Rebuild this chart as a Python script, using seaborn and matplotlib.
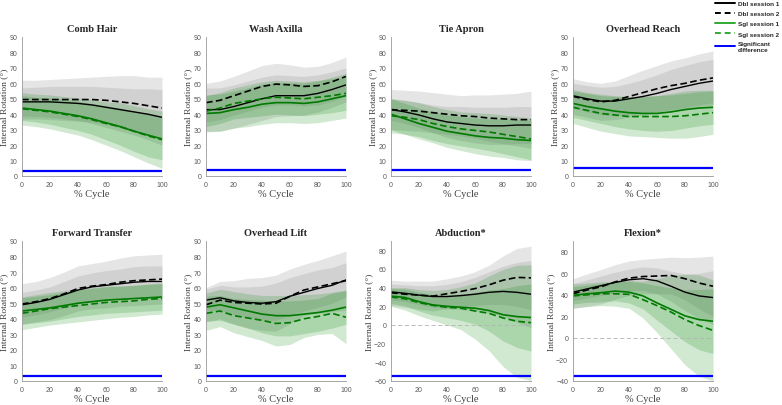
import numpy as np
import pandas as pd
import matplotlib
matplotlib.use("Agg")
import matplotlib.pyplot as plt
from matplotlib.lines import Line2D
import seaborn as sns

sns.set_style("white")
plt.rcParams['font.family'] = ['Liberation Sans', 'DejaVu Sans']

# % cycle sample points
pct = [0, 10, 20, 30, 40, 50, 60, 70, 80, 90, 100]

# ---- Comb Hair
comb_dbl1 = [48, 48, 48, 47.5, 47, 46, 44.5, 43, 41.5, 40, 38]
comb_dbl1_sd = [9, 9.5, 10, 10.5, 11, 12, 13, 14, 15, 16.5, 18]
comb_dbl2 = [49.5, 49.5, 49.5, 49.5, 49.5, 49.5, 49, 48, 47, 45.5, 44]
comb_dbl2_sd = [12.5, 12.5, 13, 13.5, 14, 14.5, 15.5, 17, 18, 18.5, 20]
comb_sgl1 = [44, 43, 42, 40.5, 39, 37, 34.5, 32, 29, 26.5, 24]
comb_sgl1_sd = [8, 8, 8.5, 9, 9.5, 10, 11, 12, 13, 14, 13.5]
comb_sgl2 = [43.5, 42.5, 41.5, 40, 38.5, 36.5, 34, 32, 29, 26, 23.5]
comb_sgl2_sd = [10.5, 10.5, 11, 11.5, 12, 13, 14, 15.5, 16.5, 17.5, 18.5]

# ---- Wash Axilla
wash_dbl1 = [43, 43, 45, 47.5, 50, 52, 52, 52, 53.5, 56, 59]
wash_dbl1_sd = [14, 14, 14, 14, 14, 13.5, 13, 12.5, 12, 11.5, 11]
wash_dbl2 = [47.5, 49, 52, 55, 58, 59.5, 59, 58, 58.5, 61, 64.5]
wash_dbl2_sd = [12.5, 12.5, 12.5, 13, 13.5, 13.5, 13, 12.5, 12.5, 12.5, 12.5]
wash_sgl1 = [40.5, 41, 43, 44.5, 46.5, 47.5, 47.5, 47, 48, 50, 52]
wash_sgl1_sd = [12, 12, 12, 12.5, 13, 13, 13, 13, 13.5, 14, 14.5]
wash_sgl2 = [42, 44, 47, 48.5, 50, 51, 50.5, 50, 51, 52, 53.5]
wash_sgl2_sd = [10, 10, 10, 10.5, 11, 11, 11, 11, 11, 11, 11]

# ---- Tie Apron
tie_dbl1 = [43, 41.5, 39.5, 37, 35, 34, 33, 32.5, 32.5, 33, 33]
tie_dbl1_sd = [7, 7.5, 8, 9, 10, 11, 11.5, 12, 12, 12, 12]
tie_dbl2 = [43, 42.5, 42, 41, 40, 39, 38.5, 37.5, 37, 36.5, 36.5]
tie_dbl2_sd = [13, 13, 13, 13, 13, 13, 14, 15, 16, 17, 18.5]
tie_sgl1 = [40, 37, 34, 31.5, 29, 27.5, 26, 25, 24.5, 23.5, 23]
tie_sgl1_sd = [10, 10, 10, 10, 10.5, 11, 11.5, 12, 12.5, 13, 13]
tie_sgl2 = [39, 38, 36.5, 34, 32, 30.5, 29.5, 28.5, 27, 25.5, 24]
tie_sgl2_sd = [11, 11, 11, 11, 11, 11, 11.5, 12, 12.5, 13, 13.5]

# ---- Overhead Reach
reach_dbl1 = [52, 50, 48.5, 48.5, 50, 51.5, 53.5, 56, 58, 60, 61.5]
reach_dbl1_sd = [8, 8.5, 9, 9.5, 10, 11, 12, 13, 13.5, 14, 14]
reach_dbl2 = [51.5, 49.5, 48, 49, 51.5, 54, 56.5, 58.5, 60, 62, 63.5]
reach_dbl2_sd = [11.5, 11.5, 12, 12.5, 13.5, 14.5, 15, 16, 16.5, 17, 17.5]
reach_sgl1 = [47, 45, 43.5, 42, 41, 40.5, 40.5, 41.5, 43, 44, 44.5]
reach_sgl1_sd = [9, 9, 9.5, 10, 10.5, 11, 11.5, 12, 12, 11.5, 11]
reach_sgl2 = [44.5, 42.5, 40.5, 39.5, 38.5, 38.5, 38.5, 38.5, 39, 40, 41]
reach_sgl2_sd = [10.5, 11, 11.5, 12, 12.5, 13, 13.5, 14, 14.5, 14.5, 14]

# ---- Forward Transfer
fwd_dbl1 = [49, 50.5, 52.5, 55.5, 58.5, 60.5, 61.5, 62.5, 63.5, 64, 64]
fwd_dbl1_sd = [8, 8, 8, 8.5, 9, 9, 9.5, 9.5, 10, 10, 10]
fwd_dbl2 = [49.5, 51, 53, 56, 59.5, 61, 62, 63.5, 64.5, 65, 65.5]
fwd_dbl2_sd = [13, 13, 13.5, 14, 14.5, 14.5, 15, 15.5, 16, 16, 16]
fwd_sgl1 = [45, 46, 47, 48.5, 50, 51, 52, 52.5, 53, 53.5, 54]
fwd_sgl1_sd = [8.5, 8.5, 8.5, 8.5, 8.5, 8.5, 8.5, 8.5, 8.5, 8.5, 8.5]
fwd_sgl2 = [43.5, 45, 46.5, 47.5, 48.5, 49.5, 50.5, 51, 51.5, 52.5, 53]
fwd_sgl2_sd = [10.5, 10.5, 10.5, 10.5, 10.5, 10.5, 10.5, 10, 10, 10, 10]

# ---- Overhead Lift
lift_dbl1 = [52, 53.5, 51.5, 50.5, 50, 51, 54.5, 57, 59.5, 61.5, 65]
lift_dbl1_sd = [7, 8, 9, 10, 11, 12, 12, 12, 12, 11.5, 11]
lift_dbl2 = [49, 52, 50.5, 50, 49.5, 50, 54.5, 58.5, 60.5, 62.5, 64.5]
lift_dbl2_sd = [11, 12, 14, 16, 17, 18, 17.5, 16.5, 17, 18, 19]
lift_sgl1 = [47.5, 49, 47, 45, 43, 42, 42, 43, 44, 45.5, 47.5]
lift_sgl1_sd = [9, 10, 10.5, 11, 12, 13, 13, 12.5, 12, 11.5, 11]
lift_sgl2 = [43.5, 45, 42, 40.5, 39, 37, 37.5, 40, 41.5, 43.5, 41]
lift_sgl2_sd = [11, 10, 11, 12, 13, 14.5, 14, 12, 11.5, 13, 17]

# ---- Abduction*
abd_dbl1 = [35.5, 34, 32, 30.5, 30.5, 31.5, 33, 35, 36, 35, 33]
abd_dbl1_sd = [8.5, 9, 10, 11.5, 13, 15, 18, 22, 27, 32, 36]
abd_dbl2 = [34.5, 33, 32, 31, 33.5, 36, 39, 43, 48, 51, 50.5]
abd_dbl2_sd = [13.5, 14, 15, 16, 16, 16.5, 18, 21, 26, 31, 34]
abd_sgl1 = [31, 29.5, 25, 21.5, 20, 19, 18, 15.5, 11, 9, 8]
abd_sgl1_sd = [8, 9, 10, 11, 12, 14, 17, 22, 28, 33, 36]
abd_sgl2 = [30, 28, 24, 21, 19, 18, 15, 12.5, 7.5, 4, 2.5]
abd_sgl2_sd = [10, 12, 14, 16, 19, 23, 30, 40, 52, 60, 62]

# ---- Flexion*
flx_dbl1 = [42.5, 45.5, 48.5, 51.5, 54, 55, 53, 48, 42.5, 39, 37.5]
flx_dbl1_sd = [8, 8.5, 9, 9.5, 10, 11, 12, 14, 17, 21, 25]
flx_dbl2 = [41, 44.5, 47.5, 52, 55.5, 57, 57.5, 58, 55, 51, 48]
flx_dbl2_sd = [14, 15, 16, 16, 16, 16, 16.5, 17, 19.5, 24, 28]
flx_sgl1 = [39.5, 41, 42, 43.5, 42.5, 39, 32.5, 26.5, 20.5, 17, 15.5]
flx_sgl1_sd = [8, 8, 8.5, 9, 10, 12, 16, 20, 24, 28, 30]
flx_sgl2 = [39, 40, 41, 41, 40.5, 35.5, 30, 24, 17, 11.5, 7]
flx_sgl2_sd = [11, 11, 11, 11.5, 13, 17, 25, 34, 42, 47, 47]

titles = ["Comb Hair", "Wash Axilla", "Tie Apron", "Overhead Reach",
          "Forward Transfer", "Overhead Lift", "Abduction*", "Flexion*"]
sig_level = [3.5, 4, 4, 5, 3, 3, -55, -35]
ylims = [(0, 90)] * 6 + [(-60, 90), (-40, 90)]

panels = [
    (comb_dbl1, comb_dbl1_sd, comb_dbl2, comb_dbl2_sd, comb_sgl1, comb_sgl1_sd, comb_sgl2, comb_sgl2_sd),
    (wash_dbl1, wash_dbl1_sd, wash_dbl2, wash_dbl2_sd, wash_sgl1, wash_sgl1_sd, wash_sgl2, wash_sgl2_sd),
    (tie_dbl1, tie_dbl1_sd, tie_dbl2, tie_dbl2_sd, tie_sgl1, tie_sgl1_sd, tie_sgl2, tie_sgl2_sd),
    (reach_dbl1, reach_dbl1_sd, reach_dbl2, reach_dbl2_sd, reach_sgl1, reach_sgl1_sd, reach_sgl2, reach_sgl2_sd),
    (fwd_dbl1, fwd_dbl1_sd, fwd_dbl2, fwd_dbl2_sd, fwd_sgl1, fwd_sgl1_sd, fwd_sgl2, fwd_sgl2_sd),
    (lift_dbl1, lift_dbl1_sd, lift_dbl2, lift_dbl2_sd, lift_sgl1, lift_sgl1_sd, lift_sgl2, lift_sgl2_sd),
    (abd_dbl1, abd_dbl1_sd, abd_dbl2, abd_dbl2_sd, abd_sgl1, abd_sgl1_sd, abd_sgl2, abd_sgl2_sd),
    (flx_dbl1, flx_dbl1_sd, flx_dbl2, flx_dbl2_sd, flx_sgl1, flx_sgl1_sd, flx_sgl2, flx_sgl2_sd),
]

GREEN = "#007a00"
BAND_GRAY = "0.6"
BAND_GREEN = "#008000"
DASH = (4, 2)

fig = plt.figure(figsize=(7.82, 4.06), dpi=100)
lefts = [22, 206, 391, 573]
serif = ['Liberation Serif', 'DejaVu Serif']

for i, (title, data) in enumerate(zip(titles, panels)):
    row, col = divmod(i, 4)
    if row == 0:
        bottom, height = 1 - 177 / 406, 139 / 406
    else:
        bottom, height = 1 - 382 / 406, 140 / 406
    ax = fig.add_axes([lefts[col] / 782, bottom, 140 / 782, height])

    d1, d1s, d2, d2s, s1, s1s, s2, s2s = [np.array(a, dtype=float) for a in data]

    # SD bands
    for m, s in ((d1, d1s), (d2, d2s)):
        ax.fill_between(pct, m - s, m + s, color=BAND_GRAY, alpha=0.25, lw=0)
    for m, s in ((s1, s1s), (s2, s2s)):
        ax.fill_between(pct, m - s, m + s, color=BAND_GREEN, alpha=0.18, lw=0)

    ylo, yhi = ylims[i]
    if ylo < 0:
        ax.axhline(0, color="0.7", lw=0.6, ls=(0, (5, 3)))

    df = pd.DataFrame({"pct": pct, "d1": d1, "d2": d2, "s1": s1, "s2": s2})
    sns.lineplot(data=df, x="pct", y="d1", ax=ax, color="black", lw=1.0)
    sns.lineplot(data=df, x="pct", y="d2", ax=ax, color="black", lw=1.2, linestyle=(0, DASH))
    sns.lineplot(data=df, x="pct", y="s1", ax=ax, color=GREEN, lw=1.2)
    sns.lineplot(data=df, x="pct", y="s2", ax=ax, color=GREEN, lw=1.2, linestyle=(0, DASH))

    ax.plot([0, 100], [sig_level[i]] * 2, color="#0000ff", lw=1.6)

    ax.set_xlim(0, 100)
    ax.set_ylim(ylo, yhi)
    ax.set_xticks(range(0, 101, 20))
    if ylo < 0:
        ax.set_yticks(range(ylo, 81, 20))
    else:
        ax.set_yticks(range(0, 91, 10))
    ax.tick_params(axis="both", labelsize=5, colors="0.35", direction="in", length=2, width=0.5)
    for sp in ("top", "right"):
        ax.spines[sp].set_visible(False)
    for sp in ("left", "bottom"):
        ax.spines[sp].set_color("0.6")
        ax.spines[sp].set_linewidth(0.6)
    ax.set_title(title, fontsize=7.5, fontweight="bold", family=serif, pad=4)
    ax.set_xlabel("% Cycle", fontsize=7.5, family=serif, color="0.25", labelpad=1)
    ax.set_ylabel("Internal Rotation (°)", fontsize=6.8, family=serif, color="0.25", labelpad=1)

handles = [
    Line2D([], [], color="black", lw=1.4),
    Line2D([], [], color="black", lw=1.4, ls=(0, (3, 2))),
    Line2D([], [], color="#33aa33", lw=1.4),
    Line2D([], [], color="#33aa33", lw=1.4, ls=(0, (3, 2))),
    Line2D([], [], color="#0000ff", lw=1.4),
]
labels = ["Dbl session 1", "Dbl session 2", "Sgl session 1", "Sgl session 2",
          "Significant\ndifference"]
fig.legend(handles, labels, loc="upper left", bbox_to_anchor=(714 / 782, 1.0),
           frameon=False, prop={"size": 4.6, "weight": "bold"}, handlelength=3.1,
           handletextpad=0.45, labelspacing=0.75, borderaxespad=0, borderpad=0.2)

fig.savefig("out.png", dpi=100)
